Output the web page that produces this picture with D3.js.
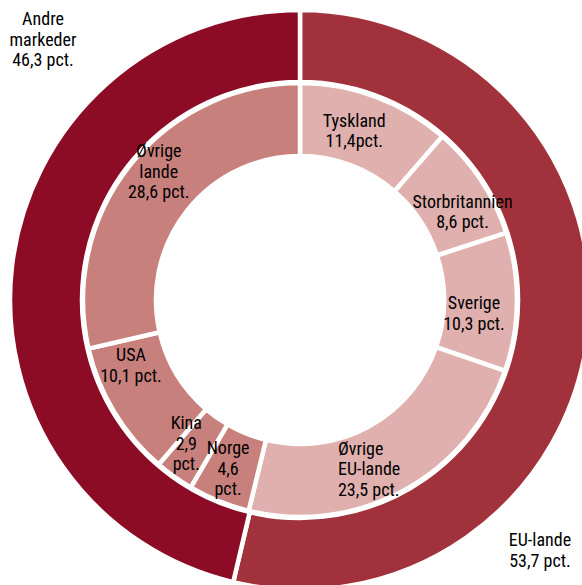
<!DOCTYPE html>
<html>
<head>
<meta charset="utf-8">
<script src="https://cdn.jsdelivr.net/npm/d3@7"></script>
<style>
  html, body { margin: 0; padding: 0; background: #fff; }
  svg { display: block; }
  text { font-family: "Liberation Sans Narrow", "Arial Narrow", "Roboto Condensed", sans-serif; font-size: 18px; fill: #000; }
</style>
</head>
<body>
<svg id="chart" width="582" height="585"></svg>
<script>
// Outer ring: regions (pct.)
const outerNames = ["EU-lande", "Andre markeder"];
const outerValues = [53.7, 46.3];
const outerLabels = [["EU-lande", "53,7 pct."], ["Andre", "markeder", "46,3 pct."]];

// Inner ring: countries (pct.)
const innerNames = ["Tyskland", "Storbritannien", "Sverige", "Øvrige EU-lande", "Norge", "Kina", "USA", "Øvrige lande"];
const innerValues = [11.4, 8.6, 10.3, 23.5, 4.6, 2.9, 10.1, 28.6];
const innerGroup = [0, 0, 0, 0, 1, 1, 1, 1];
const innerLabels = [
  ["Tyskland", "11,4pct."],
  ["Storbritannien", "8,6 pct."],
  ["Sverige", "10,3 pct."],
  ["Øvrige", "EU-lande", "23,5 pct."],
  ["Norge", "4,6", "pct."],
  ["Kina", "2,9", "pct."],
  ["USA", "10,1 pct."],
  ["Øvrige", "lande", "28,6 pct."]
];

// styling / layout
const cx = 300, cy = 300;
const outerColors = ["#A1323B", "#8C0B25"];
const innerColors = ["#DFB0AE", "#C8807D"];
const lineH = 20.5;
// label placement offsets for first baseline relative to arc centroid
const innerOffsets = [[-9, -4], [12, 7.5], [-6.5, 7.4], [-48.5, -3.5], [-4.4, -13.4], [-9, -18], [-14.5, -32], [0, -30.6]];
const innerAnchors = ["middle", "middle", "middle", "start", "middle", "middle", "middle", "middle"];
// outer labels relative to chart centre
const outerOffsets = [[240, 246], [-257, -275]];

const svg = d3.select("#chart");
const g = svg.append("g").attr("transform", `translate(${cx},${cy})`);

const pie = d3.pie().sort(null).value(d => d);
const outerArc = d3.arc().innerRadius(218).outerRadius(290);
const innerArc = d3.arc().innerRadius(144).outerRadius(217);

const outerData = pie(outerValues);
const innerData = pie(innerValues);

g.selectAll("path.outer").data(outerData).enter().append("path")
  .attr("class", "outer")
  .attr("d", outerArc)
  .attr("fill", (d, i) => outerColors[i])
  .attr("stroke", "#fff").attr("stroke-width", 4.5);

g.selectAll("path.inner").data(innerData).enter().append("path")
  .attr("class", "inner")
  .attr("d", innerArc)
  .attr("fill", (d, i) => innerColors[innerGroup[i]])
  .attr("stroke", "#fff").attr("stroke-width", 4.5);

innerData.forEach((d, i) => {
  const c = innerArc.centroid(d);
  const t = g.append("text")
    .attr("text-anchor", innerAnchors[i])
    .attr("x", c[0] + innerOffsets[i][0])
    .attr("y", c[1] + innerOffsets[i][1]);
  innerLabels[i].forEach((line, j) => {
    t.append("tspan").attr("x", c[0] + innerOffsets[i][0]).attr("dy", j === 0 ? 0 : lineH).text(line);
  });
});

outerData.forEach((d, i) => {
  const t = g.append("text")
    .attr("text-anchor", "middle")
    .attr("x", outerOffsets[i][0])
    .attr("y", outerOffsets[i][1]);
  outerLabels[i].forEach((line, j) => {
    t.append("tspan").attr("x", outerOffsets[i][0]).attr("dy", j === 0 ? 0 : lineH).text(line);
  });
});
</script>
</body>
</html>
